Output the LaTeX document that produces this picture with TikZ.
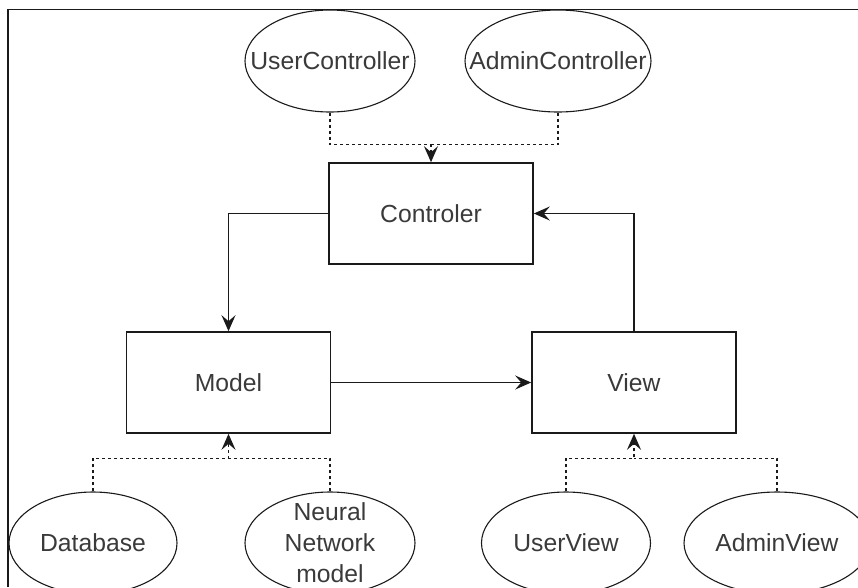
\documentclass[tikz,border=0pt]{standalone}
\usepackage{fontspec}
\setmainfont{Liberation Sans}
\usetikzlibrary{shapes.geometric, arrows.meta}
\definecolor{textgray}{HTML}{3A3A3A}
\definecolor{linegray}{HTML}{1A1A1A}

\begin{document}
\begin{tikzpicture}[x=1pt, y=-1pt,
font=\fontsize{24.7}{31}\selectfont,
every label/.style = {text=textgray},
block/.style = {rectangle, draw=linegray, line width=1.6pt, text=textgray,
  minimum width=204pt, minimum height=101pt, inner sep=0pt},
oval/.style = {ellipse, draw=linegray, line width=1.1pt,
  minimum height=102pt, inner sep=0pt},
tip/.style = {-{Stealth[length=16pt, width=14pt, inset=6pt]}},
flow/.style = {draw=linegray, line width=1.6pt, tip},
dep/.style = {draw=linegray, line width=1.3pt, dash pattern=on 3pt off 3pt},
deparrow/.style = {dep, tip}]

  \useasboundingbox (0,0) rectangle (858,587);
  \draw[linegray, line width=1.6pt] (8,587) -- (8,9.5) -- (858,9.5);

  % middle boxes
  \node[block] (ctrl)  at (431,213.5) {Controler};
  \node[block] (model) at (228.5,382.5) {Model};
  \node[block] (view)  at (634,382.5) {View};

  % controller parts
  \node[oval, minimum width=170pt, label=center:UserController] (uctrl) at (330,61) {};
  \node[oval, minimum width=186pt, label=center:AdminController] (actrl) at (558,61) {};

  % model and view parts
  \node[oval, minimum width=168pt, label=center:Database] (db) at (93,543) {};
  \node[oval, minimum width=170pt, label={[align=center]center:Neural\\Network\\model}] (nn) at (330,543) {};
  \node[oval, minimum width=169pt, label=center:UserView] (uview) at (566,543) {};
  \node[oval, minimum width=186pt, label=center:AdminView] (aview) at (777,543) {};

  \draw[flow] (ctrl.west) -| (model.north);
  \draw[flow] (model) -- (view);
  \draw[flow] (view.north) |- (ctrl.east);

  \draw[deparrow] (uctrl.south) |- ([yshift=18pt]ctrl.north) -- (ctrl.north);
  \draw[dep] (actrl.south) |- ([yshift=18pt]ctrl.north);

  \draw[deparrow] (db.north) |- ([yshift=-25pt]model.south) -- (model.south);
  \draw[dep] (nn.north) |- ([yshift=-25pt]model.south);

  \draw[deparrow] (uview.north) |- ([yshift=-25pt]view.south) -- (view.south);
  \draw[dep] (aview.north) |- ([yshift=-25pt]view.south);

\end{tikzpicture}
\end{document}
